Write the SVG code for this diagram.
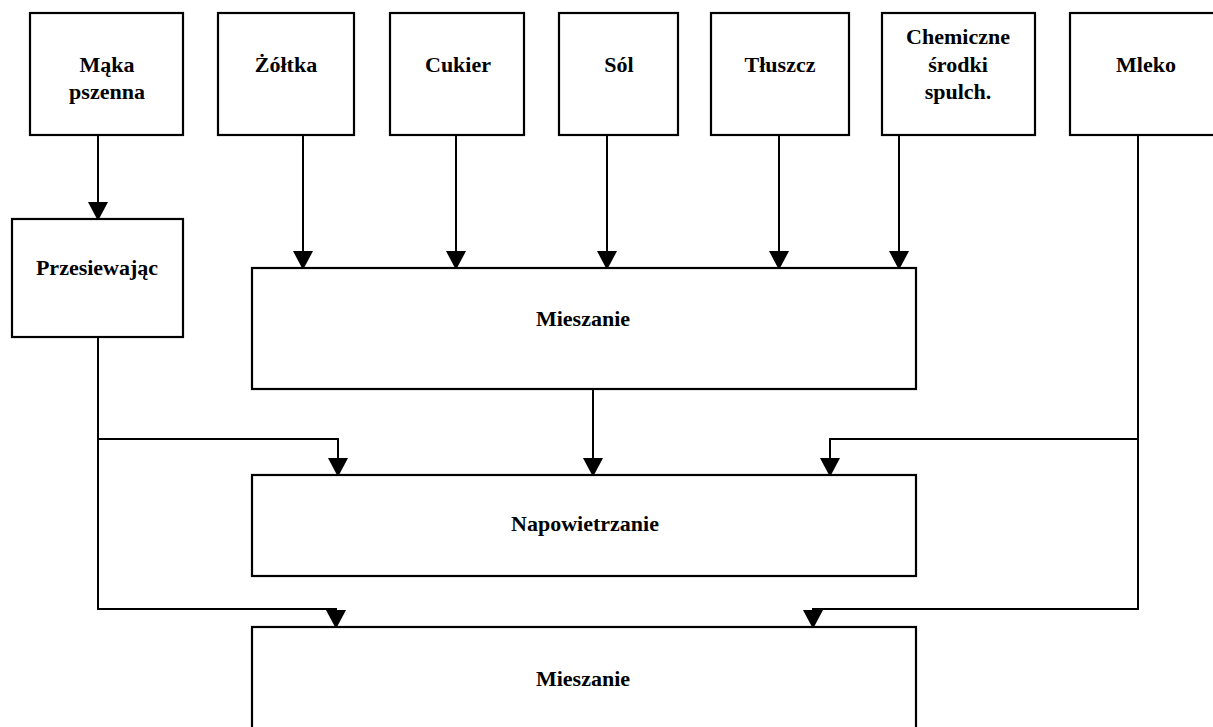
<svg xmlns="http://www.w3.org/2000/svg" xmlns:xlink="http://www.w3.org/1999/xlink" width="1213" height="727" viewBox="0 0 1213 727">
<style>
.box{fill:#fff;stroke:#000;stroke-width:2.2}
.ln{fill:none;stroke:#000;stroke-width:2}
.t{font-family:"Liberation Serif","Times New Roman",serif;font-weight:bold;font-size:22px;fill:#000;text-anchor:middle}
</style>
<defs>
<path id="ah" d="M-10,-17 L10,-17 L1,0 L-1,0 Z" fill="#000"/>
</defs>
<rect width="1213" height="727" fill="#fff"/>
<g id="n-maka"><rect class="box" x="30" y="13" width="153" height="122"/><text class="t" x="107" y="72">Mąka</text><text class="t" x="107" y="99">pszenna</text></g>
<g id="n-zoltka"><rect class="box" x="218" y="13" width="136" height="122"/><text class="t" x="286" y="72">Żółtka</text></g>
<g id="n-cukier"><rect class="box" x="390" y="13" width="134" height="122"/><text class="t" x="458" y="72">Cukier</text></g>
<g id="n-sol"><rect class="box" x="559" y="13" width="119" height="122"/><text class="t" x="619" y="72">Sól</text></g>
<g id="n-tluszcz"><rect class="box" x="711" y="13" width="138" height="122"/><text class="t" x="780" y="72">Tłuszcz</text></g>
<g id="n-chem"><rect class="box" x="882" y="13" width="153" height="122"/><text class="t" x="958" y="44">Chemiczne</text><text class="t" x="958" y="72">środki</text><text class="t" x="958" y="99">spulch.</text></g>
<g id="n-mleko"><rect class="box" x="1070" y="13" width="152" height="122"/><text class="t" x="1146" y="72">Mleko</text></g>
<g id="n-przes"><rect class="box" x="12" y="219" width="171" height="118"/><text class="t" x="97" y="275">Przesiewając</text></g>
<g id="n-miesz1"><rect class="box" x="252" y="268" width="664" height="121"/><text class="t" x="583" y="326">Mieszanie</text></g>
<g id="n-napow"><rect class="box" x="252" y="475" width="664" height="101"/><text class="t" x="585" y="531">Napowietrzanie</text></g>
<g id="n-miesz2"><rect class="box" x="252" y="627" width="664" height="140"/><text class="t" x="583" y="686">Mieszanie</text></g>
<g id="connectors">
<path class="ln" d="M98,135 V205"/><use xlink:href="#ah" x="98" y="219"/>
<path class="ln" d="M303,135 V255"/><use xlink:href="#ah" x="303" y="268"/>
<path class="ln" d="M456,135 V255"/><use xlink:href="#ah" x="456" y="268"/>
<path class="ln" d="M607,135 V255"/><use xlink:href="#ah" x="607" y="268"/>
<path class="ln" d="M779,135 V255"/><use xlink:href="#ah" x="779" y="268"/>
<path class="ln" d="M899,135 V255"/><use xlink:href="#ah" x="899" y="268"/>
<path class="ln" d="M593,389 V462"/><use xlink:href="#ah" x="593" y="475"/>
<path class="ln" d="M98,337 V609 H336 V614"/><path class="ln" d="M98,439 H338 V462"/>
<use xlink:href="#ah" x="338" y="475"/><use xlink:href="#ah" x="336" y="627"/>
<path class="ln" d="M1138,135 V609 H813 V614"/><path class="ln" d="M1138,439 H830 V462"/>
<use xlink:href="#ah" x="830" y="475"/><use xlink:href="#ah" x="813" y="627"/>
</g>
</svg>
